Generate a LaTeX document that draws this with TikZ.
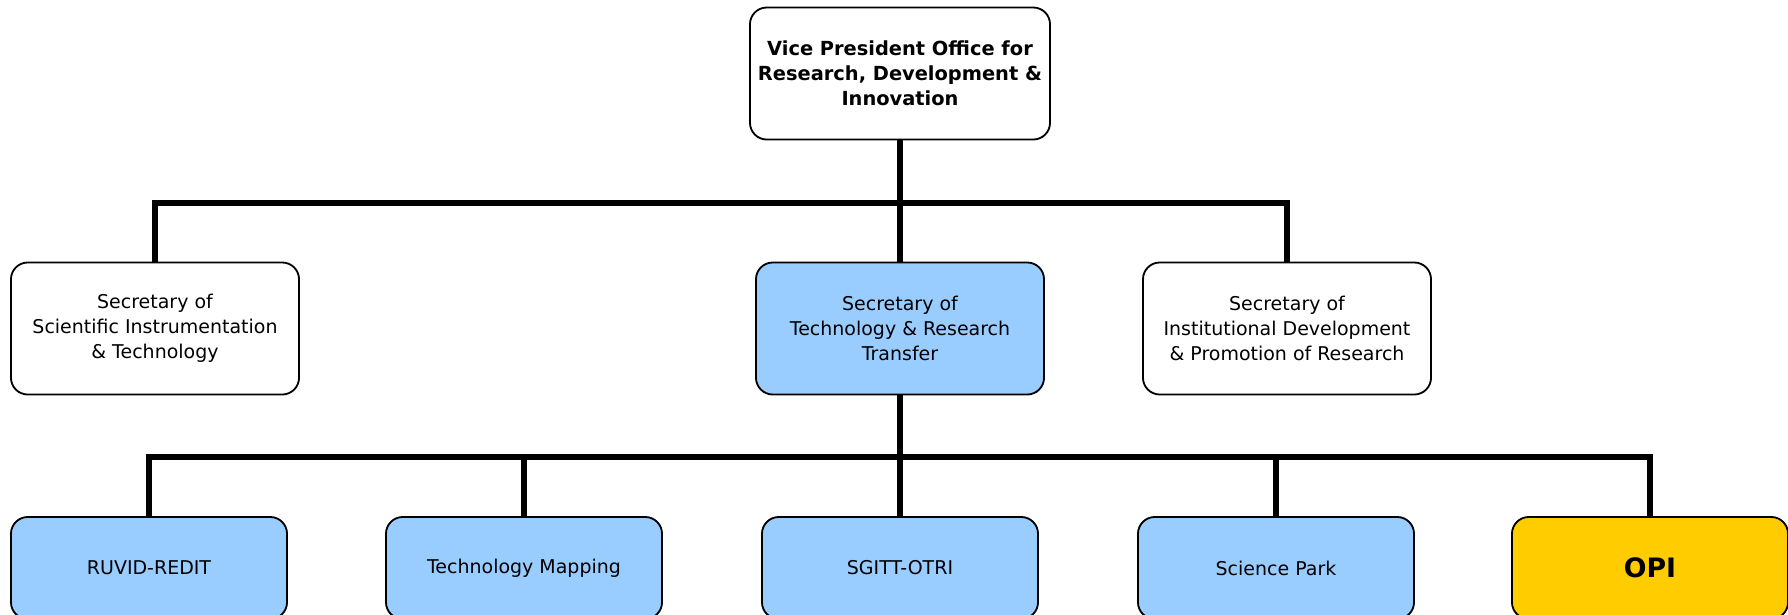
\documentclass[tikz,border=0pt]{standalone}
\usepackage{fontspec}
\setmainfont{DejaVu Sans}
\usetikzlibrary{calc}

\definecolor{boxblue}{HTML}{99CCFF}
\definecolor{opiyellow}{HTML}{FFCC00}

\tikzset{
  unit/.style={draw=black, line width=1.3pt, rounded corners=0.42cm, align=center,
    inner sep=2pt, font=\fontsize{13.5}{17.8}\selectfont},
  head/.style={unit, minimum width=7.5cm, minimum height=3.3cm},
  secretary/.style={unit, minimum width=7.2cm, minimum height=3.3cm},
  office/.style={unit, fill=boxblue, minimum width=6.9cm, minimum height=2.55cm},
  link/.style={line width=3.9pt, black}
}

\begin{document}
\begin{tikzpicture}[x=0.025cm, y=-0.025cm]

\clip (0,0) rectangle (1788,614);
\fill[white] (0,0) rectangle (1788,614);

\node[head, font=\fontsize{13.8}{17.8}\selectfont\bfseries] (vp) at (900,73.5)
  {Vice President Office for\\Research, Development \&\\Innovation};

\node[secretary] (sit) at (155,328.5)
  {Secretary of\\Scientific Instrumentation\\\& Technology};
\node[secretary, fill=boxblue] (str) at (900,328.5)
  {Secretary of\\Technology \& Research\\Transfer};
\node[secretary] (idp) at (1287,328.5)
  {Secretary of\\Institutional Development\\\& Promotion of Research};

\node[office] (ruvid) at (149,568) {RUVID-REDIT};
\node[office] (tmap) at (524,568) {Technology Mapping};
\node[office] (sgitt) at (900,568) {SGITT-OTRI};
\node[office] (spark) at (1276,568) {Science Park};
\node[office, fill=opiyellow, font=\fontsize{19}{22}\selectfont\bfseries] (opi) at (1650,568) {OPI};

\coordinate (j1) at (900,203);
\coordinate (j2) at (900,457);

\draw[link] (vp.south) -- (j1);
\draw[link] (sit.north) |- (j1) -| (idp.north);
\draw[link] (j1) -- (str.north);
\draw[link] (str.south) -- (j2);
\draw[link] (ruvid.north) |- (j2) -| (opi.north);
\draw[link] (tmap.north) |- (j2);
\draw[link] (sgitt.north) -- (j2);
\draw[link] (spark.north) |- (j2);

\end{tikzpicture}
\end{document}
